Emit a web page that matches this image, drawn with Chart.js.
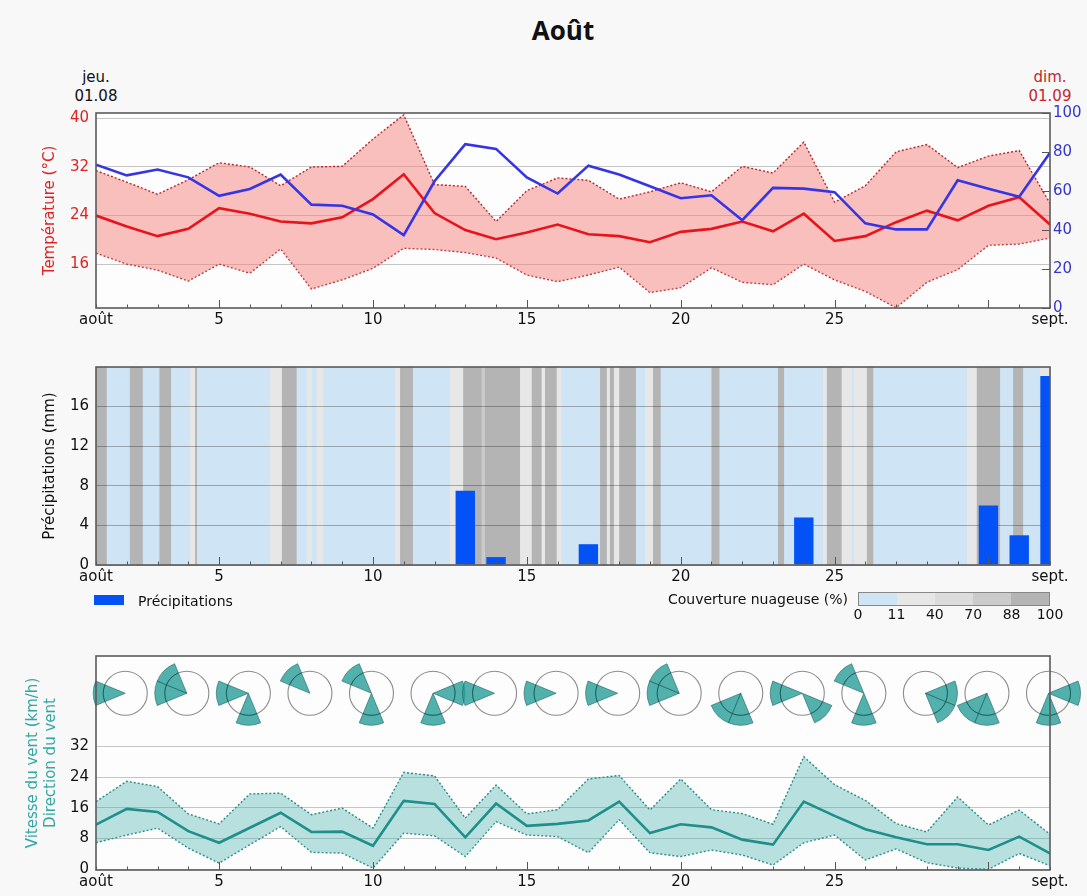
<!DOCTYPE html>
<html lang="fr">
<head>
<meta charset="utf-8">
<title>Août</title>
<script src="https://cdn.jsdelivr.net/npm/chart.js@4.4.1/dist/chart.umd.min.js"></script>
<style>
  html, body { margin: 0; padding: 0; background: #f8f8f8; }
  body { width: 1087px; height: 896px; position: relative; overflow: hidden; font-family: "DejaVu Sans", sans-serif; color: #111; }
  canvas { position: absolute; left: 0; }
  .lbl { position: absolute; text-align: center; font-size: 15px; line-height: 19px; white-space: nowrap; }
  #title { position: absolute; top: 12px; left: 463px; width: 200px; text-align: center; font: bold 26px "Open Sans", sans-serif; }
  #precipLegend { position: absolute; left: 94px; top: 592px; font-size: 14px; line-height: 18px; }
  #precipLegend span.box { display: inline-block; width: 30px; height: 10px; background: #0352f5; margin-right: 14px; vertical-align: 1px; }
  #cloudLegend { position: absolute; left: 600px; top: 590px; width: 248px; text-align: right; font-size: 14px; line-height: 18px; }
  #cloudBar { position: absolute; left: 858px; top: 592px; width: 192px; height: 14px; border: 1px solid #888; box-sizing: border-box; display: flex; }
  #cloudBar div { flex: 1; }
  .cbTick { position: absolute; top: 605px; width: 40px; text-align: center; font-size: 14px; line-height: 18px; }
</style>
</head>
<body>
<div id="title">Août</div>
<div class="lbl" style="left:56px;top:68px;width:80px;">jeu.<br>01.08</div>
<div class="lbl" style="left:1010px;top:68px;width:80px;color:#c0272d;">dim.<br>01.09</div>

<canvas id="tempChart" width="1087" height="280" style="top:60px"></canvas>
<canvas id="precipChart" width="1087" height="260" style="top:340px"></canvas>
<canvas id="windChart" width="1087" height="256" style="top:640px"></canvas>

<div id="precipLegend"><span class="box"></span>Précipitations</div>
<div id="cloudLegend">Couverture nuageuse (%)</div>
<div id="cloudBar"></div>

<script>
// ---- data (August, one value per day) ----
const days = [1, 2, 3, 4, 5, 6, 7, 8, 9, 10, 11, 12, 13, 14, 15, 16,
              17, 18, 19, 20, 21, 22, 23, 24, 25, 26, 27, 28, 29, 30, 31, 32];
const xTickDays = [1, 5, 10, 15, 20, 25, 32];
const xTickLabels = ['août', '5', '10', '15', '20', '25', 'sept.'];
const majorTickDays = [5, 10, 15, 20, 25, 30];

const tempMean = [24.0, 22.2, 20.6, 21.8, 25.2, 24.3, 23.0, 22.7, 23.7, 26.7, 30.8, 24.4, 21.6, 20.1, 21.2, 22.5,
                  20.9, 20.6, 19.6, 21.3, 21.8, 23.0, 21.4, 24.3, 19.8, 20.6, 22.9, 24.8, 23.2, 25.6, 27.0, 22.5];
const tempMax = [31.4, 29.5, 27.5, 29.9, 32.7, 32.0, 28.9, 32.0, 32.1, 36.6, 40.6, 29.1, 28.8, 23.0, 28.1, 30.2,
                 29.8, 26.7, 27.9, 29.4, 27.9, 32.1, 31.0, 36.1, 26.2, 28.9, 34.5, 35.7, 31.9, 33.8, 34.7, 26.0];
const tempMin = [17.8, 16.0, 15.0, 13.2, 16.0, 14.5, 18.5, 11.9, 13.4, 15.3, 18.6, 18.4, 17.9, 17.0, 14.2, 13.1,
                 14.2, 15.5, 11.3, 12.1, 15.4, 13.0, 12.6, 16.0, 13.4, 11.5, 8.8, 13.0, 15.1, 19.1, 19.3, 20.3];
const humidity = [73.5, 68, 71, 67, 57.5, 61, 68.4, 53, 52.4, 48, 37.4, 65, 84, 81.6, 67, 58.7,
                  73, 68.5, 62.4, 56.3, 57.8, 45, 61.6, 61.2, 59.4, 43.4, 40.3, 40.3, 65.5, 61.2, 57, 79.6];
const tempTicks = [16, 24, 32, 40];
const humidityTicks = [0, 20, 40, 60, 80, 100];

const precip = [0, 0, 0, 0, 0, 0, 0, 0, 0, 0, 0, 0, 7.5, 0.8, 0, 0,
                2.1, 0, 0, 0, 0, 0, 0, 4.8, 0, 0, 0, 0, 0, 6.0, 3.0, 19.1];
const precipTicks = [0, 4, 8, 12, 16];

// cloud cover as runs: each run starts at cloudStart[i] (day) and lasts to the next start
const cloudStart = [1.00, 1.35, 2.10, 2.52, 3.06, 3.44, 4.05, 4.22, 4.28, 6.65, 7.04, 7.52, 7.85, 8.01, 8.17, 8.38,
                    10.72, 10.88, 11.30, 12.50, 12.93, 13.53, 13.64, 14.78, 15.16, 15.48, 15.59, 15.97, 16.13, 17.38,
                    17.60, 17.70, 17.83, 18.00, 18.55, 18.84, 19.10, 19.35, 21.00, 21.26, 23.16, 23.36, 24.63, 24.75,
                    25.23, 25.56, 25.63, 26.05, 26.26, 29.31, 29.62, 30.38, 30.80, 31.13, 31.68, 32.00];
const cloudCover = [95, 5, 95, 5, 95, 5, 25, 95, 5, 25, 95, 5, 25, 5, 25, 5,
                    25, 95, 5, 25, 95, 80, 95, 25, 95, 25, 95, 25, 5, 95,
                    25, 95, 25, 95, 5, 25, 95, 5, 95, 5, 95, 5, 25, 95,
                    25, 5, 25, 95, 5, 25, 95, 5, 95, 5, 25];
const cloudBounds = [0, 11, 40, 70, 88, 100];
const cloudColors = ['#cfe4f4', '#e7e7e7', '#dcdcdc', '#cbcbcb', '#b4b4b4'];

const windMean = [11.6, 15.7, 14.9, 9.9, 6.9, 10.8, 14.7, 9.7, 9.8, 6.1, 17.8, 17.0, 8.3, 17.1, 11.3, 11.8,
                  12.7, 17.6, 9.4, 11.7, 10.9, 7.7, 6.4, 17.6, 13.9, 10.4, 8.3, 6.5, 6.5, 5.0, 8.5, 4.1];
const windMax = [17.6, 22.9, 21.5, 14.4, 11.8, 19.6, 19.8, 14.2, 15.9, 10.7, 25.2, 24.3, 13.3, 21.9, 14.4, 15.5,
                 23.5, 24.4, 15.4, 23.5, 15.5, 14.5, 11.7, 29.3, 22.0, 17.9, 11.9, 9.7, 18.8, 11.5, 15.4, 9.1];
const windMin = [6.9, 8.9, 10.7, 5.5, 1.6, 6.4, 11.1, 4.4, 4.2, 0.3, 9.4, 8.7, 3.3, 12.4, 8.9, 8.5,
                 4.3, 12.9, 4.3, 3.3, 5.0, 3.7, 1.1, 6.9, 8.9, 2.4, 5.3, 1.7, 0.3, 0.0, 4.1, 0.9];
const windTicks = [0, 8, 16, 24, 32];

// wind roses every two days: compass directions (deg) of the dominant sectors
const roseDays = [2, 4, 6, 8, 10, 12, 14, 16, 18, 20, 22, 24, 26, 28, 30, 32];
const roseDirs = [[270], [270, 315], [270, 180], [315], [315, 180], [180, 90], [270], [270],
                  [270], [270, 315], [225, 180], [270, 135], [315, 180], [90, 135], [225, 180], [90, 180]];

// ---- shared helpers ----
const tickFont = { family: 'DejaVu Sans', size: 15 };

const coverColor = (pct) => {
  for (let i = 1; i < cloudBounds.length; i++) {
    if (pct < cloudBounds[i]) return cloudColors[i - 1];
  }
  return cloudColors[cloudColors.length - 1];
};

const fixedTicks = (list) => (scale) => { scale.ticks = list.map(v => ({ value: v })); };

const xAxis = (axisHeight) => ({
  type: 'linear',
  min: 1,
  max: 32,
  offset: false,
  afterBuildTicks: fixedTicks(xTickDays),
  afterFit: (scale) => { scale.height = axisHeight; },
  ticks: {
    autoSkip: false,
    maxRotation: 0,
    padding: 3,
    color: '#111',
    font: tickFont,
    callback: (v) => xTickLabels[xTickDays.indexOf(v)]
  },
  grid: { display: false, drawTicks: false, offset: false },
  border: { display: false }
});

// plot background, inward ticks and frame
const framePlugin = {
  id: 'frame',
  beforeDraw(chart) {
    const { ctx, chartArea: a } = chart;
    ctx.save();
    ctx.fillStyle = '#fdfdfd';
    ctx.fillRect(a.left, a.top, a.width, a.height);
    ctx.restore();
  },
  afterDraw(chart) {
    const { ctx, chartArea: a, scales } = chart;
    ctx.save();
    ctx.strokeStyle = '#555';
    ctx.lineWidth = 1;
    ctx.beginPath();
    days.forEach(d => {
      const x = Math.round(scales.x.getPixelForValue(d)) + 0.5;
      const len = majorTickDays.includes(d) ? 8 : 3.5;
      ctx.moveTo(x, a.bottom);
      ctx.lineTo(x, a.bottom - len);
    });
    if (scales.y1) {
      humidityTicks.forEach(v => {
        const y = Math.round(scales.y1.getPixelForValue(v)) + 0.5;
        ctx.moveTo(a.right, y);
        ctx.lineTo(a.right - 8, y);
      });
    }
    ctx.stroke();
    ctx.lineWidth = 1.6;
    ctx.strokeStyle = '#5a5a5a';
    ctx.strokeRect(a.left, a.top, a.width, a.height);
    ctx.restore();
  }
};

// cloud cover bands behind the precipitation bars
const cloudPlugin = {
  id: 'cloudBands',
  beforeDraw(chart) {
    const { ctx, chartArea: a, scales: { x } } = chart;
    ctx.save();
    for (let i = 0; i < cloudCover.length; i++) {
      const x0 = x.getPixelForValue(cloudStart[i]);
      const x1 = x.getPixelForValue(cloudStart[i + 1]);
      ctx.fillStyle = coverColor(cloudCover[i]);
      ctx.fillRect(x0, a.top, x1 - x0 + 0.5, a.height);
    }
    ctx.restore();
  }
};

// wind roses drawn above the wind speed curves
const ROSE_LEVEL = 45.8;
const rosePlugin = {
  id: 'windRoses',
  afterDatasetsDraw(chart) {
    const { ctx, scales: { x, y } } = chart;
    const cy = y.getPixelForValue(ROSE_LEVEL);
    const ring = 22, petal = 32, half = Math.PI / 8;
    ctx.save();
    roseDays.forEach((d, i) => {
      const cx = x.getPixelForValue(d) - 1.5;
      ctx.beginPath();
      ctx.arc(cx, cy, ring, 0, Math.PI * 2);
      ctx.strokeStyle = '#8c8c8c';
      ctx.lineWidth = 1.1;
      ctx.stroke();
      roseDirs[i].forEach(deg => {
        const ang = (deg - 90) * Math.PI / 180;
        ctx.beginPath();
        ctx.moveTo(cx, cy);
        ctx.arc(cx, cy, petal, ang - half, ang + half);
        ctx.closePath();
        ctx.fillStyle = 'rgba(40, 158, 153, 0.8)';
        ctx.fill();
        ctx.strokeStyle = 'rgba(20, 90, 88, 0.55)';
        ctx.lineWidth = 1;
        ctx.stroke();
        ctx.beginPath();
        ctx.arc(cx, cy, ring, ang - half, ang + half);
        ctx.strokeStyle = 'rgba(15, 70, 68, 0.7)';
        ctx.stroke();
      });
    });
    ctx.restore();
  }
};

const noInteraction = { legend: { display: false }, tooltip: { enabled: false } };

// ---- temperature / humidity ----
new Chart(document.getElementById('tempChart'), {
  type: 'line',
  data: {
    datasets: [
      {
        label: 'Humidité',
        data: days.map((d, i) => ({ x: d, y: humidity[i] })),
        yAxisID: 'y1',
        borderColor: '#3535e6',
        borderWidth: 2.6,
        pointRadius: 0,
        fill: false
      },
      {
        label: 'Température',
        data: days.map((d, i) => ({ x: d, y: tempMean[i] })),
        borderColor: '#e8141c',
        borderWidth: 2.6,
        pointRadius: 0,
        fill: false
      },
      {
        label: 'Max',
        data: days.map((d, i) => ({ x: d, y: tempMax[i] })),
        borderColor: '#b8282c',
        borderWidth: 1.4,
        borderDash: [2, 2],
        pointRadius: 0,
        fill: '+1',
        backgroundColor: 'rgba(245, 130, 125, 0.5)'
      },
      {
        label: 'Min',
        data: days.map((d, i) => ({ x: d, y: tempMin[i] })),
        borderColor: '#b8282c',
        borderWidth: 1.4,
        borderDash: [2, 2],
        pointRadius: 0,
        fill: false
      }
    ]
  },
  options: {
    responsive: false,
    animation: false,
    events: [],
    layout: { padding: { top: 53, bottom: 0, left: 0, right: 0 } },
    plugins: noInteraction,
    scales: {
      x: xAxis(32),
      y: {
        position: 'left',
        min: 8.75,
        max: 40.9,
        afterBuildTicks: fixedTicks(tempTicks),
        afterFit: (s) => { s.width = 96; },
        ticks: { color: '#dd2222', font: tickFont, padding: 7 },
        grid: { color: 'rgba(0, 0, 0, 0.22)', drawTicks: false },
        border: { display: false },
        title: { display: true, text: 'Température (°C)', color: '#dd2222', font: tickFont, padding: { top: 41, bottom: 0 } }
      },
      y1: {
        position: 'right',
        min: 0,
        max: 100,
        afterBuildTicks: fixedTicks(humidityTicks),
        afterFit: (s) => { s.width = 37; },
        ticks: { color: '#3535d0', font: tickFont, padding: 3 },
        grid: { display: false, drawTicks: false },
        border: { display: false }
      }
    }
  },
  plugins: [framePlugin]
});

// ---- precipitation with cloud cover ----
new Chart(document.getElementById('precipChart'), {
  type: 'bar',
  data: {
    datasets: [{
      label: 'Précipitations',
      data: days.map((d, i) => ({ x: d, y: precip[i] })),
      backgroundColor: '#0352f5',
      borderWidth: 0,
      barPercentage: 0.7,
      categoryPercentage: 0.9
    }]
  },
  options: {
    responsive: false,
    animation: false,
    events: [],
    layout: { padding: { top: 27, bottom: 0, left: 0, right: 37 } },
    plugins: noInteraction,
    scales: {
      x: xAxis(35),
      y: {
        position: 'left',
        min: 0,
        max: 20,
        afterBuildTicks: fixedTicks(precipTicks),
        afterFit: (s) => { s.width = 96; },
        ticks: { color: '#111', font: tickFont, padding: 7 },
        grid: { color: 'rgba(0, 0, 0, 0.28)', drawTicks: false },
        border: { display: false },
        title: { display: true, text: 'Précipitations (mm)', color: '#111', font: tickFont, padding: { top: 41, bottom: 0 } }
      }
    }
  },
  plugins: [framePlugin, cloudPlugin]
});

// ---- wind ----
new Chart(document.getElementById('windChart'), {
  type: 'line',
  data: {
    datasets: [
      {
        label: 'Vent moyen',
        data: days.map((d, i) => ({ x: d, y: windMean[i] })),
        borderColor: '#1f8f8c',
        borderWidth: 2.6,
        pointRadius: 0,
        fill: false
      },
      {
        label: 'Rafales',
        data: days.map((d, i) => ({ x: d, y: windMax[i] })),
        borderColor: '#2a8a87',
        borderWidth: 1.4,
        borderDash: [2, 2],
        pointRadius: 0,
        fill: '+1',
        backgroundColor: 'rgba(70, 175, 170, 0.38)'
      },
      {
        label: 'Min',
        data: days.map((d, i) => ({ x: d, y: windMin[i] })),
        borderColor: '#2a8a87',
        borderWidth: 1.4,
        borderDash: [2, 2],
        pointRadius: 0,
        fill: false
      }
    ]
  },
  options: {
    responsive: false,
    animation: false,
    events: [],
    layout: { padding: { top: 14, bottom: 0, left: 0, right: 37 } },
    plugins: noInteraction,
    scales: {
      x: xAxis(26),
      y: {
        position: 'left',
        min: -0.2,
        max: 55.5,
        afterBuildTicks: fixedTicks(windTicks),
        afterFit: (s) => { s.width = 96; },
        ticks: { color: '#111', font: tickFont, padding: 7 },
        grid: { color: 'rgba(0, 0, 0, 0.22)', drawTicks: false },
        border: { display: false },
        title: {
          display: true,
          text: ['Vitesse du vent (km/h)', 'Direction du vent'],
          color: '#33a6a3',
          font: tickFont,
          padding: { top: 24, bottom: 0 }
        }
      }
    }
  },
  plugins: [framePlugin, rosePlugin]
});

// ---- cloud cover colour bar ----
const bar = document.getElementById('cloudBar');
cloudColors.forEach(c => {
  const seg = document.createElement('div');
  seg.style.background = c;
  bar.appendChild(seg);
});
cloudBounds.forEach((b, i) => {
  const t = document.createElement('div');
  t.className = 'cbTick';
  t.textContent = b;
  t.style.left = (858 + i * 38.4 - 20) + 'px';
  document.body.appendChild(t);
});
</script>
</body>
</html>
